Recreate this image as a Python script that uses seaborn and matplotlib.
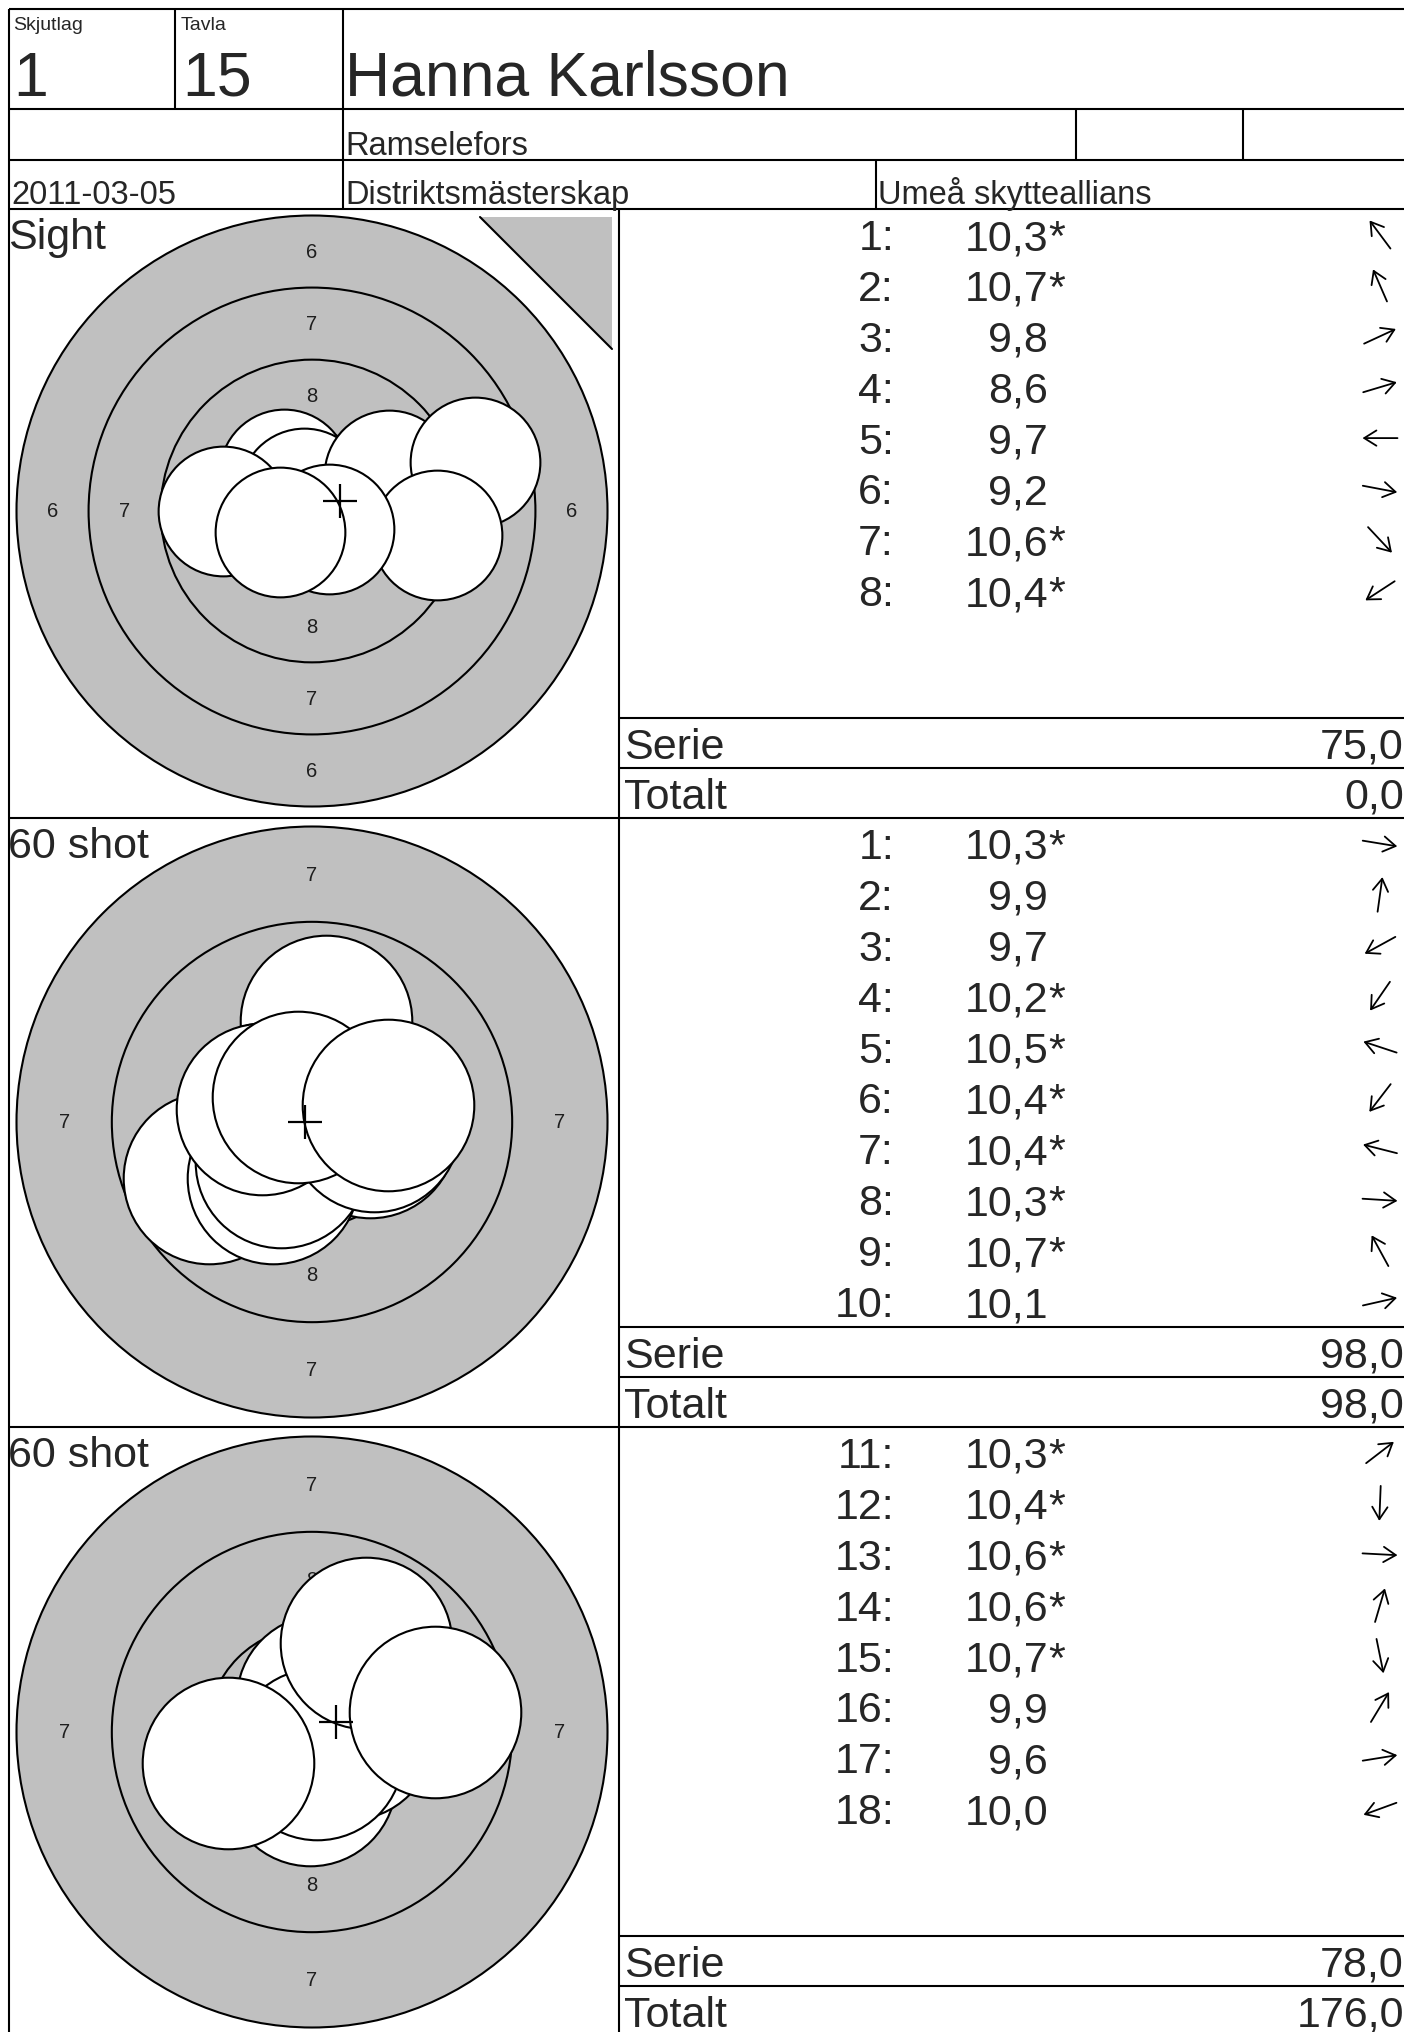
import numpy as np
import matplotlib
matplotlib.use("Agg")
import matplotlib.pyplot as plt
from matplotlib.patches import Circle, Polygon
import seaborn as sns

sns.set_theme(style="white")
plt.rcParams['font.family'] = ['Liberation Sans', 'DejaVu Sans']

# --- header ---
squad = "1"
lane = "15"
shooter = "Hanna Karlsson"
club = "Ramselefors"
match_date = "2011-03-05"
competition = "Distriktsmästerskap"
organizer = "Umeå skytteallians"

# --- series ---
series_names = ["Sight", "60 shot", "60 shot"]
first_shot_no = [1, 1, 11]
counts_to_total = [False, True, True]
outer_ring = [6, 7, 7]

# shot positions in mm from centre (x right, y up), scores and inner-ten flags
sight_x = [-0.96, -0.27, 2.68, 5.64, -3.09, 4.32, 0.58, -1.12]
sight_y = [1.29, 0.62, 1.24, 1.69, 0.00, -0.82, -0.62, -0.73]
sight_score = [10.3, 10.7, 9.8, 8.6, 9.7, 9.2, 10.6, 10.4]
sight_inner = [True, True, False, False, False, False, True, True]

s1_x = [1.52, 0.37, -2.70, -1.02, -1.15, -0.80, -1.30, 1.63, -0.36, 1.99]
s1_y = [-0.25, 2.66, -1.48, -1.48, 0.38, -1.04, 0.33, -0.10, 0.66, 0.45]
s1_score = [10.3, 9.9, 9.7, 10.2, 10.5, 10.4, 10.4, 10.3, 10.7, 10.1]
s1_inner = [True, False, False, True, True, True, True, True, True, False]

s2_x = [1.30, -0.05, 0.95, 0.25, 0.12, 1.41, 3.23, -2.19]
s2_y = [1.00, -1.26, -0.05, 0.85, -0.59, 2.33, 0.52, -0.80]
s2_score = [10.3, 10.4, 10.6, 10.6, 10.7, 9.9, 9.6, 10.0]
s2_inner = [True, True, True, True, True, False, False, False]

shots_x = [sight_x, s1_x, s2_x]
shots_y = [sight_y, s1_y, s2_y]
scores = [sight_score, s1_score, s2_score]
inner = [sight_inner, s1_inner, s2_inner]

# --- layout (pixels) ---
W, H = 1404, 2033
sec_top = [210, 819, 1428]
sec_h = 609
row_h = 50.9
target_cx = 312
target_cy = [512, 1123, 1733]
outer_px = 295.5
pellet_mm = 4.5
GREY = '#c0c0c0'
LW = 1.5


def ring_radius(k):
    # 10 m air rifle target, ring k outer radius in mm
    return 0.25 + (10 - k) * 2.5


def fmt(v):
    return f"{v:.1f}".replace('.', ',')


fig = plt.figure(figsize=(W / 100, H / 100), dpi=100)
ax0 = fig.add_axes([0, 0, 1, 1])
ax0.set_xlim(0, W)
ax0.set_ylim(H, 0)
ax0.set_axis_off()


def hline(y, x0=9, x1=W):
    ax0.plot([x0, x1], [y, y], color='black', lw=LW, solid_capstyle='butt')


def vline(x, y0, y1):
    ax0.plot([x, x], [y0, y1], color='black', lw=LW, solid_capstyle='butt')


# header grid
for y in [10, 110, 161, 210]:
    hline(y)
vline(9, 10, H)
vline(175, 10, 110)
vline(343, 10, 210)
vline(1076, 110, 161)
vline(1243, 110, 161)
vline(876, 161, 210)
vline(619, 210, H)

ax0.text(13, 17, "Skjutlag", fontsize=14, va='top', ha='left')
ax0.text(181, 17, "Tavla", fontsize=14, va='top', ha='left')
ax0.text(13, 96, squad, fontsize=45, va='baseline', ha='left')
ax0.text(182, 96, lane, fontsize=45, va='baseline', ha='left')
ax0.text(345, 96, shooter, fontsize=45, va='baseline', ha='left')
ax0.text(345, 155, club, fontsize=23.5, va='baseline', ha='left')
ax0.text(11, 204, match_date, fontsize=23.5, va='baseline', ha='left')
ax0.text(345, 204, competition, fontsize=23.5, va='baseline', ha='left')
ax0.text(878, 204, organizer, fontsize=23.5, va='baseline', ha='left')

total = 0.0
for k in range(3):
    top = sec_top[k]
    hline(top + sec_h)
    serie_top = top + 10 * row_h
    totalt_top = serie_top + 50
    hline(serie_top, 619, W)
    hline(totalt_top, 619, W)

    ax0.text(8, top + 39.5, series_names[k], fontsize=31, va='baseline', ha='left', zorder=20)

    xs = np.array(shots_x[k])
    ys = np.array(shots_y[k])
    angles = np.arctan2(ys, xs)
    for i, sc in enumerate(scores[k]):
        rt = top + i * row_h
        ax0.text(894, rt + 40, f"{first_shot_no[k] + i}:", fontsize=31, ha='right', va='baseline')
        ax0.text(1048, rt + 40, fmt(sc), fontsize=31, ha='right', va='baseline')
        if inner[k][i]:
            ax0.text(1048, rt + 40, "*", fontsize=31, ha='left', va='baseline')
        cx, cy = 1380, rt + 25.5
        dx, dy = np.cos(angles[i]) * 17.5, -np.sin(angles[i]) * 17.5
        ax0.annotate('', xy=(cx + dx, cy + dy), xytext=(cx - dx, cy - dy),
                     arrowprops=dict(arrowstyle='->,head_length=0.4,head_width=0.25',
                                     lw=1.3, color='black', shrinkA=0, shrinkB=0,
                                     mutation_scale=22))

    serie = float(sum(np.floor(np.array(scores[k]) + 1e-9)))
    if counts_to_total[k]:
        total += serie
    ax0.text(624, serie_top + 40, "Serie", fontsize=31, ha='left', va='baseline')
    ax0.text(W, serie_top + 40, fmt(serie), fontsize=31, ha='right', va='baseline')
    ax0.text(624, totalt_top + 40, "Totalt", fontsize=31, ha='left', va='baseline')
    ax0.text(W, totalt_top + 40, fmt(total), fontsize=31, ha='right', va='baseline')

    # target panel
    ring0 = outer_ring[k]
    px_mm = outer_px / ring_radius(ring0)
    cyp = target_cy[k]
    ax = fig.add_axes([9 / W, 1 - (top + sec_h) / H, 610 / W, sec_h / H])
    ax.patch.set_alpha(0)
    ax.add_patch(Circle((0, 0), ring_radius(ring0), fc=GREY, ec='black', lw=LW, zorder=1))
    for ring in range(ring0 + 1, 11):
        ax.add_patch(Circle((0, 0), ring_radius(ring), fc='none', ec='black', lw=LW, zorder=2))
    for ring in range(ring0, 9):
        rm = (ring_radius(ring) + ring_radius(ring + 1)) / 2
        for px, py in [(0, rm), (0, -rm), (-rm, 0), (rm, 0)]:
            ax.text(px, py, str(ring), fontsize=14.5, color='#1e1e1e',
                    ha='center', va='center', zorder=3)

    d_pt = pellet_mm * px_mm * 72 / 100
    sns.scatterplot(x=xs, y=ys, s=d_pt ** 2, color='white', edgecolor='black',
                    linewidth=LW, ax=ax, legend=False, zorder=5)
    ax.plot(xs.mean(), ys.mean(), marker='+', ms=25, mew=1.6, color='black', zorder=10)

    ax.set_xlim((9 - target_cx) / px_mm, (619 - target_cx) / px_mm)
    ax.set_ylim((cyp - (top + sec_h)) / px_mm, (cyp - top) / px_mm)
    ax.set_axis_off()

# sighter marker triangle
ax0.add_patch(Polygon([(480, 218), (612, 218), (612, 350)], closed=True, fc=GREY, ec='none'))
ax0.plot([480, 612], [218, 350], color='black', lw=LW)

fig.savefig('out.png', dpi=100)
